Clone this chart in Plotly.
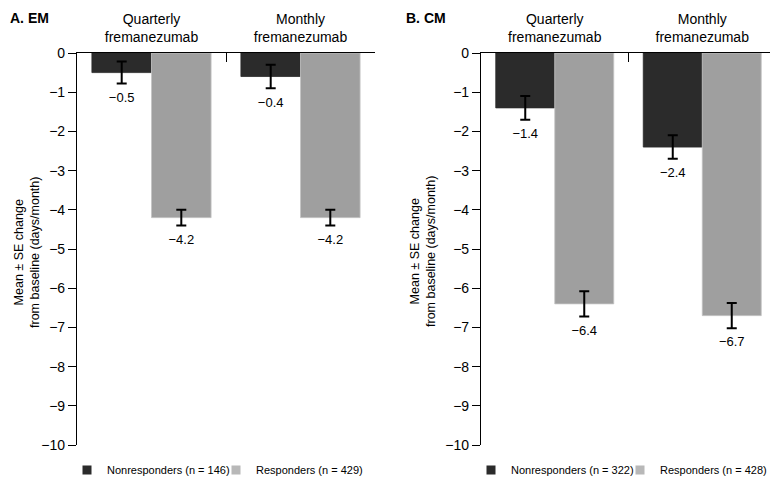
import plotly.graph_objects as go

# ---- data ----
groups = ["Quarterly<br>fremanezumab", "Monthly<br>fremanezumab"]

em_non = [-0.5, -0.6]
em_non_se = [0.28, 0.30]
em_non_lbl = ["−0.5", "−0.4"]
em_resp = [-4.2, -4.2]
em_resp_se = [0.20, 0.20]
em_resp_lbl = ["−4.2", "−4.2"]

cm_non = [-1.4, -2.4]
cm_non_se = [0.30, 0.30]
cm_non_lbl = ["−1.4", "−2.4"]
cm_resp = [-6.4, -6.7]
cm_resp_se = [0.32, 0.32]
cm_resp_lbl = ["−6.4", "−6.7"]

legend_em = ["Nonresponders (n = 146)", "Responders (n = 429)"]
legend_cm = ["Nonresponders (n = 322)", "Responders (n = 428)"]
panel_titles = ["A. EM", "B. CM"]
y_title = "Mean ± SE change<br>from baseline (days/month)"
yticks = list(range(0, -11, -1))

# ---- style / page geometry ----
DARK = "#2b2b2b"
LIGHT = "#9f9f9f"
FONT = "Liberation Sans, Arial, sans-serif"
OFF = 8                      # page body margin
W, H = 778 - OFF, 483 - OFF  # figure size
PL, PR, PT, PB = 77, 776, 53, 445   # plot area in page pixels


def px(x):   # page x -> paper fraction
    return (x - PL) / (PR - PL)


def py(y):   # page y -> paper fraction
    return (PB - y) / (PB - PT)


fig = go.Figure()

panels = [
    ("x", "y", "legend", legend_em,
     [(em_non, em_non_se, em_non_lbl), (em_resp, em_resp_se, em_resp_lbl)]),
    ("x2", "y2", "legend2", legend_cm,
     [(cm_non, cm_non_se, cm_non_lbl), (cm_resp, cm_resp_se, cm_resp_lbl)]),
]

for xa, ya, lg, names, series in panels:
    for i, (vals, se, lbl) in enumerate(series):
        color = DARK if i == 0 else LIGHT
        fig.add_trace(go.Bar(
            x=groups, y=vals, name=names[i], xaxis=xa, yaxis=ya,
            showlegend=False, offsetgroup=str(i),
            marker=dict(color=color, line=dict(width=0.8, color="#c4c4c4" if i else DARK)),
            error_y=dict(type="data", array=se, visible=True,
                         thickness=2, width=5, color="black"),
        ))
    for i, (vals, se, lbl) in enumerate(series):
        fig.add_trace(go.Scatter(
            x=groups, y=[v - s for v, s in zip(vals, se)], mode="markers+text",
            marker=dict(size=12, opacity=0),
            text=lbl, textposition="bottom center", xaxis=xa, yaxis=ya,
            offsetgroup=str(i), showlegend=False, hoverinfo="skip",
            textfont=dict(size=13, color="black", family=FONT),
        ))
    # legend entries (small square swatches)
    for i in range(2):
        color = DARK if i == 0 else "#b8b8b8"
        fig.add_trace(go.Scatter(
            x=[None], y=[None], mode="markers", name=names[i], legend=lg,
            xaxis=xa, yaxis=ya, showlegend=True, hoverinfo="skip",
            marker=dict(symbol="square", size=9, color=color),
        ))

xcommon = dict(type="category", side="top", showline=True, linecolor="black",
               linewidth=1.2, ticks="inside", tickson="boundaries", ticklen=9,
               tickcolor="black", tickwidth=1.2, ticklabelstandoff=4,
               tickfont=dict(size=14, color="black", family=FONT),
               showgrid=False, zeroline=False, fixedrange=True, automargin=False)
ycommon = dict(range=[-10, 0], tickvals=yticks, showline=True, linecolor="black",
               linewidth=1.2, ticks="outside", ticklen=8, tickcolor="black",
               tickwidth=1.2, showgrid=False, zeroline=False, automargin=False,
               tickfont=dict(size=14, color="black", family=FONT),
               domain=[0, 1], fixedrange=True)

legcommon = dict(orientation="h", yanchor="middle", y=py(470),
                 xanchor="left", font=dict(size=11, color="black", family=FONT),
                 entrywidthmode="pixels", bgcolor="rgba(0,0,0,0)",
                 itemclick=False, itemdoubleclick=False)

title_font = dict(size=14, color="black", family=FONT)
ytitle_font = dict(size=12.5, color="black", family=FONT)

fig.update_layout(
    width=W, height=H,
    margin=dict(l=PL - OFF, r=W - (PR - OFF), t=PT - OFF, b=H - (PB - OFF),
                pad=0, autoexpand=False),
    paper_bgcolor="white", plot_bgcolor="white",
    barmode="group", bargap=0.2, bargroupgap=0,
    scattermode="group", scattergap=0.2,
    font=dict(family=FONT, color="black"),
    xaxis=dict(xcommon, domain=[px(77), px(375)], anchor="y"),
    yaxis=dict(ycommon, anchor="x"),
    xaxis2=dict(xcommon, domain=[px(481), px(776)], anchor="y2"),
    yaxis2=dict(ycommon, anchor="x2"),
    legend=dict(legcommon, x=px(67), entrywidth=104),
    legend2=dict(legcommon, x=px(471), entrywidth=104),
    annotations=[
        dict(text="<b>" + panel_titles[0] + "</b>", x=px(8), y=py(8), xref="paper", yref="paper",
             xanchor="left", yanchor="top", showarrow=False, font=title_font),
        dict(text="<b>" + panel_titles[1] + "</b>", x=px(404), y=py(8), xref="paper", yref="paper",
             xanchor="left", yanchor="top", showarrow=False, font=title_font),
        dict(text=y_title, x=px(27), y=py(252), xref="paper", yref="paper",
             xanchor="center", yanchor="middle", textangle=-90, showarrow=False,
             align="center", font=ytitle_font),
        dict(text=y_title, x=px(423), y=py(252), xref="paper", yref="paper",
             xanchor="center", yanchor="middle", textangle=-90, showarrow=False,
             align="center", font=ytitle_font),
    ],
    showlegend=True,
)

fig.write_html("out.html")
